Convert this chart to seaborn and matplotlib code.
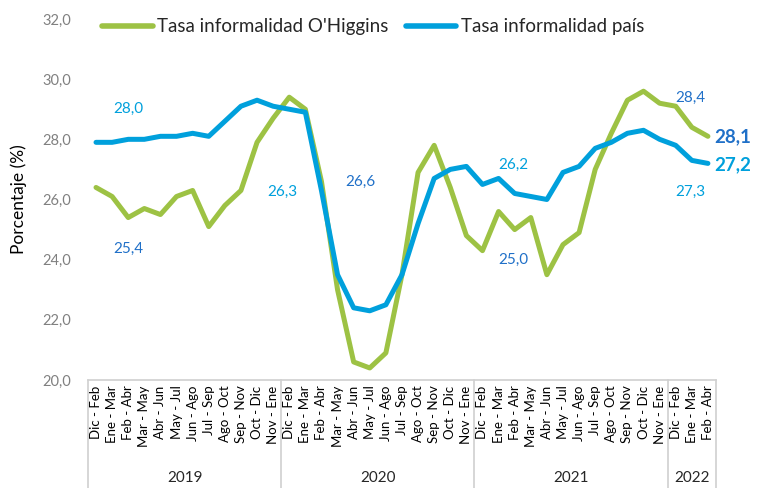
import numpy as np
import pandas as pd
import seaborn as sns
import matplotlib.pyplot as plt
import matplotlib.transforms as mtransforms
from matplotlib.ticker import FuncFormatter

# trimestres moviles
trimestres = ["Dic - Feb", "Ene - Mar", "Feb - Abr", "Mar - May", "Abr - Jun", "May - Jul",
              "Jun - Ago", "Jul - Sep", "Ago - Oct", "Sep - Nov", "Oct - Dic", "Nov - Ene"]
anios = ["2019", "2020", "2021", "2022"]
n_por_anio = [12, 12, 12, 3]

ohiggins = [26.4, 26.1, 25.4, 25.7, 25.5, 26.1, 26.3, 25.1, 25.8, 26.3, 27.9, 28.7,
            29.4, 29.0, 26.6, 23.0, 20.6, 20.4, 20.9, 23.5, 26.9, 27.8, 26.4, 24.8,
            24.3, 25.6, 25.0, 25.4, 23.5, 24.5, 24.9, 27.0, 28.2, 29.3, 29.6, 29.2,
            29.1, 28.4, 28.1]
pais = [27.9, 27.9, 28.0, 28.0, 28.1, 28.1, 28.2, 28.1, 28.6, 29.1, 29.3, 29.1,
        29.0, 28.9, 26.3, 23.5, 22.4, 22.3, 22.5, 23.5, 25.2, 26.7, 27.0, 27.1,
        26.5, 26.7, 26.2, 26.1, 26.0, 26.9, 27.1, 27.7, 27.9, 28.2, 28.3, 28.0,
        27.8, 27.3, 27.2]

series = ["Tasa informalidad O'Higgins", "Tasa informalidad país"]

# etiquetas de datos (texto, x, y, serie)
etiquetas = ["28,0", "25,4", "26,3", "26,6", "26,2", "25,0", "28,4", "27,3"]
etq_x = [2.0, 2.0, 11.55, 16.4, 25.9, 25.9, 36.9, 36.9]
etq_y = [29.0, 24.35, 26.25, 26.58, 27.15, 24.0, 29.38, 26.25]
etq_serie = [1, 0, 1, 0, 1, 0, 0, 1]

verde = "#9DC244"
azul = "#00A0DC"
azul_osc = "#2070C8"
gris = "#808080"

etiquetas_x = []
for n in n_por_anio:
    etiquetas_x += trimestres[:n]
idx = np.arange(len(etiquetas_x))

df = pd.DataFrame({
    "idx": np.concatenate([idx, idx]),
    "valor": ohiggins + pais,
    "serie": [series[0]] * len(idx) + [series[1]] * len(idx),
})

sns.set_style("white")
plt.rcParams["font.family"] = ["Lato", "DejaVu Sans"]

fig = plt.figure(figsize=(7.57, 4.88), dpi=100, facecolor="white")
ax = fig.add_axes([0.1162, 0.2213, 0.8296, 0.7398])

sns.lineplot(data=df, x="idx", y="valor", hue="serie", hue_order=series,
             palette=[verde, azul], linewidth=3.6, ax=ax, legend=False)

ax.set_xlim(-0.5, len(idx) - 0.5)
ax.set_ylim(20, 32)
ax.set_yticks(np.arange(20, 32.1, 2))
ax.yaxis.set_major_formatter(FuncFormatter(lambda v, p: f"{v:.1f}".replace(".", ",")))
ax.tick_params(axis="y", colors=gris, labelsize=10.5, length=0, pad=12)
ax.set_ylabel("Porcentaje (%)", fontsize=12.5, color="black", labelpad=11)
ax.set_xlabel("")

ax.set_xticks(idx)
ax.set_xticklabels(etiquetas_x, rotation=90, fontsize=9.5, color="black")
ax.tick_params(axis="x", length=0, pad=4)

for s in ["top", "right", "left"]:
    ax.spines[s].set_visible(False)
ax.spines["bottom"].set_color("#D0D0D0")
ax.spines["bottom"].set_linewidth(1.2)

# eje de categorias con dos niveles
trans = mtransforms.blended_transform_factory(ax.transData, ax.transAxes)
limites = np.concatenate([[0], np.cumsum(n_por_anio)]) - 0.5
for b in limites:
    ax.plot([b, b], [0, -0.30], color="#D0D0D0", lw=1.2, transform=trans, clip_on=False)
for i, a in enumerate(anios):
    ax.text((limites[i] + limites[i + 1]) / 2, -0.272, a, transform=trans,
            ha="center", va="center", fontsize=11)

# etiquetas de datos
for t, x, y, s in zip(etiquetas, etq_x, etq_y, etq_serie):
    ax.text(x, y, t, ha="center", va="center", fontsize=11,
            color=azul if s == 1 else azul_osc)

ultimo = len(idx) - 1
ax.text(ultimo + 0.4, ohiggins[-1], f"{ohiggins[-1]:.1f}".replace(".", ","),
        ha="left", va="center", fontsize=13.5, fontweight="bold", color=azul_osc)
ax.text(ultimo + 0.4, pais[-1] - 0.05, f"{pais[-1]:.1f}".replace(".", ","),
        ha="left", va="center", fontsize=13.5, fontweight="bold", color=azul)

handles = [plt.Line2D([], [], color=c, lw=4, solid_capstyle="round") for c in [verde, azul]]
fig.legend(handles, series, loc="center", bbox_to_anchor=(0.493, 0.945), ncol=2,
           frameon=False, fontsize=13.5, handlelength=2.7, handletextpad=0.25,
           columnspacing=0.9)

fig.savefig("out.png", dpi=100, facecolor="white")
